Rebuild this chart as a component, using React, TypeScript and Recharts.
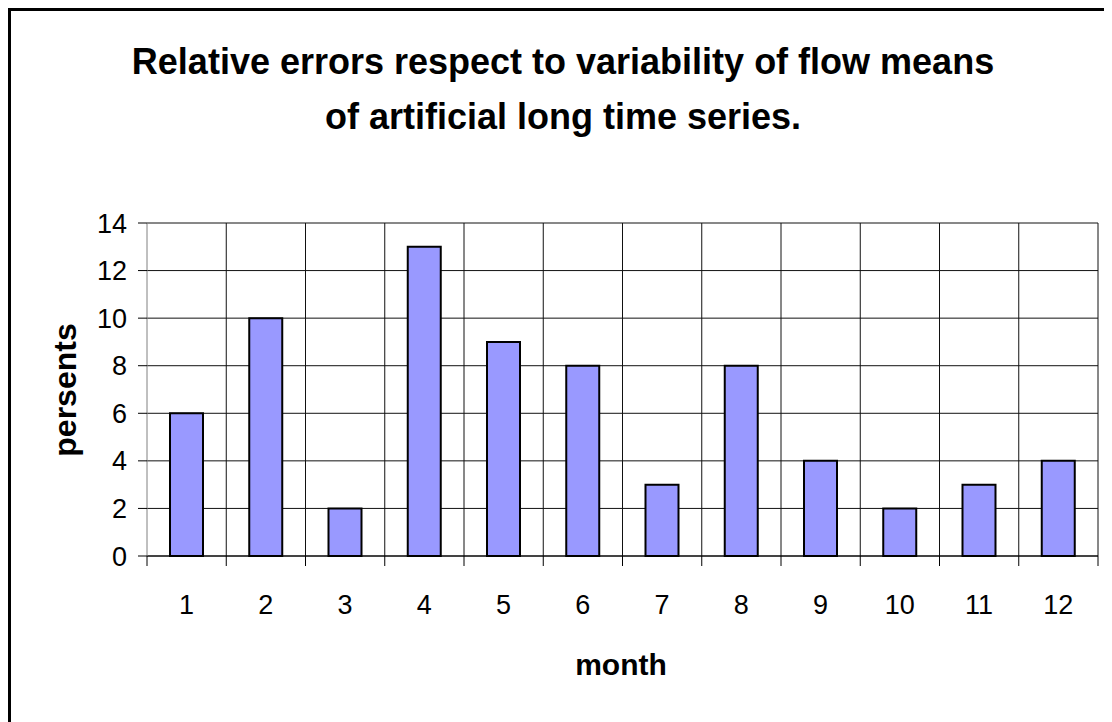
import { Bar, BarChart, CartesianGrid, XAxis, YAxis } from "recharts";

const months = ["1", "2", "3", "4", "5", "6", "7", "8", "9", "10", "11", "12"];
const errorPercents = [6, 10, 2, 13, 9, 8, 3, 8, 4, 2, 3, 4];
const yTicks = [0, 2, 4, 6, 8, 10, 12, 14];

const data = months.map((month, i) => ({ month, value: errorPercents[i] }));

const FONT = '"Liberation Sans", Arial, Helvetica, sans-serif';

function MonthTick(props: any) {
  const { x, y, payload, index } = props;
  const half = payload && typeof payload.offset === "number" && payload.offset > 0 ? payload.offset : 39.6;
  return (
    <g>
      <line x1={x - half} y1={y} x2={x - half} y2={y + 10} stroke="#000" strokeWidth={1} />
      {index === months.length - 1 && (
        <line x1={x + half} y1={y} x2={x + half} y2={y + 10} stroke="#000" strokeWidth={1} />
      )}
      <text x={x} y={y + 58} textAnchor="middle" fontSize={27} fill="#000" fontFamily={FONT}>
        {payload.value}
      </text>
    </g>
  );
}

export default function App() {
  return (
    <div
      style={{
        position: "relative",
        width: 1104,
        height: 714,
        boxSizing: "border-box",
        borderTop: "3px solid #000",
        borderLeft: "3px solid #000",
        background: "#fff",
        fontFamily: FONT,
        overflow: "hidden",
      }}
    >
      <div
        style={{
          position: "absolute",
          left: 0,
          top: 23,
          width: 1104,
          textAlign: "center",
          fontSize: 36,
          fontWeight: "bold",
          lineHeight: "55px",
          color: "#000",
        }}
      >
        Relative errors respect to variability of flow means
        <br />
        of artificial long time series.
      </div>

      <div style={{ position: "absolute", left: 0, top: 0 }}>
        <BarChart
          width={1101}
          height={711}
          data={data}
          margin={{ top: 212, right: 14, left: 76, bottom: 106 }}
        >
          <CartesianGrid
            stroke="#111"
            strokeWidth={1}
            verticalCoordinatesGenerator={({ offset }: any) =>
              months.map((_, i) => offset.left + ((i + 1) * offset.width) / months.length)
            }
          />
          <XAxis
            dataKey="month"
            tickLine={false}
            axisLine={{ stroke: "#000" }}
            tickSize={0}
            tickMargin={0}
            height={60}
            interval={0}
            tick={<MonthTick />}
          />
          <YAxis
            domain={[0, 14]}
            ticks={yTicks}
            width={60}
            tickSize={9}
            tickMargin={11}
            interval={0}
            axisLine={{ stroke: "#808080" }}
            tickLine={{ stroke: "#000" }}
            tick={{ fontSize: 27, fill: "#000", fontFamily: FONT }}
          />
          <Bar dataKey="value" fill="#9999FF" stroke="#000" strokeWidth={2} barSize={33} isAnimationActive={false} />
        </BarChart>
      </div>

      <div
        style={{
          position: "absolute",
          left: 54,
          top: 379,
          transform: "translate(-50%, -50%) rotate(-90deg)",
          fontSize: 32,
          fontWeight: "bold",
          whiteSpace: "nowrap",
          color: "#000",
        }}
      >
        persents
      </div>
      <div
        style={{
          position: "absolute",
          left: 610,
          top: 654,
          transform: "translate(-50%, -50%)",
          fontSize: 30,
          fontWeight: "bold",
          whiteSpace: "nowrap",
          color: "#000",
        }}
      >
        month
      </div>
    </div>
  );
}
